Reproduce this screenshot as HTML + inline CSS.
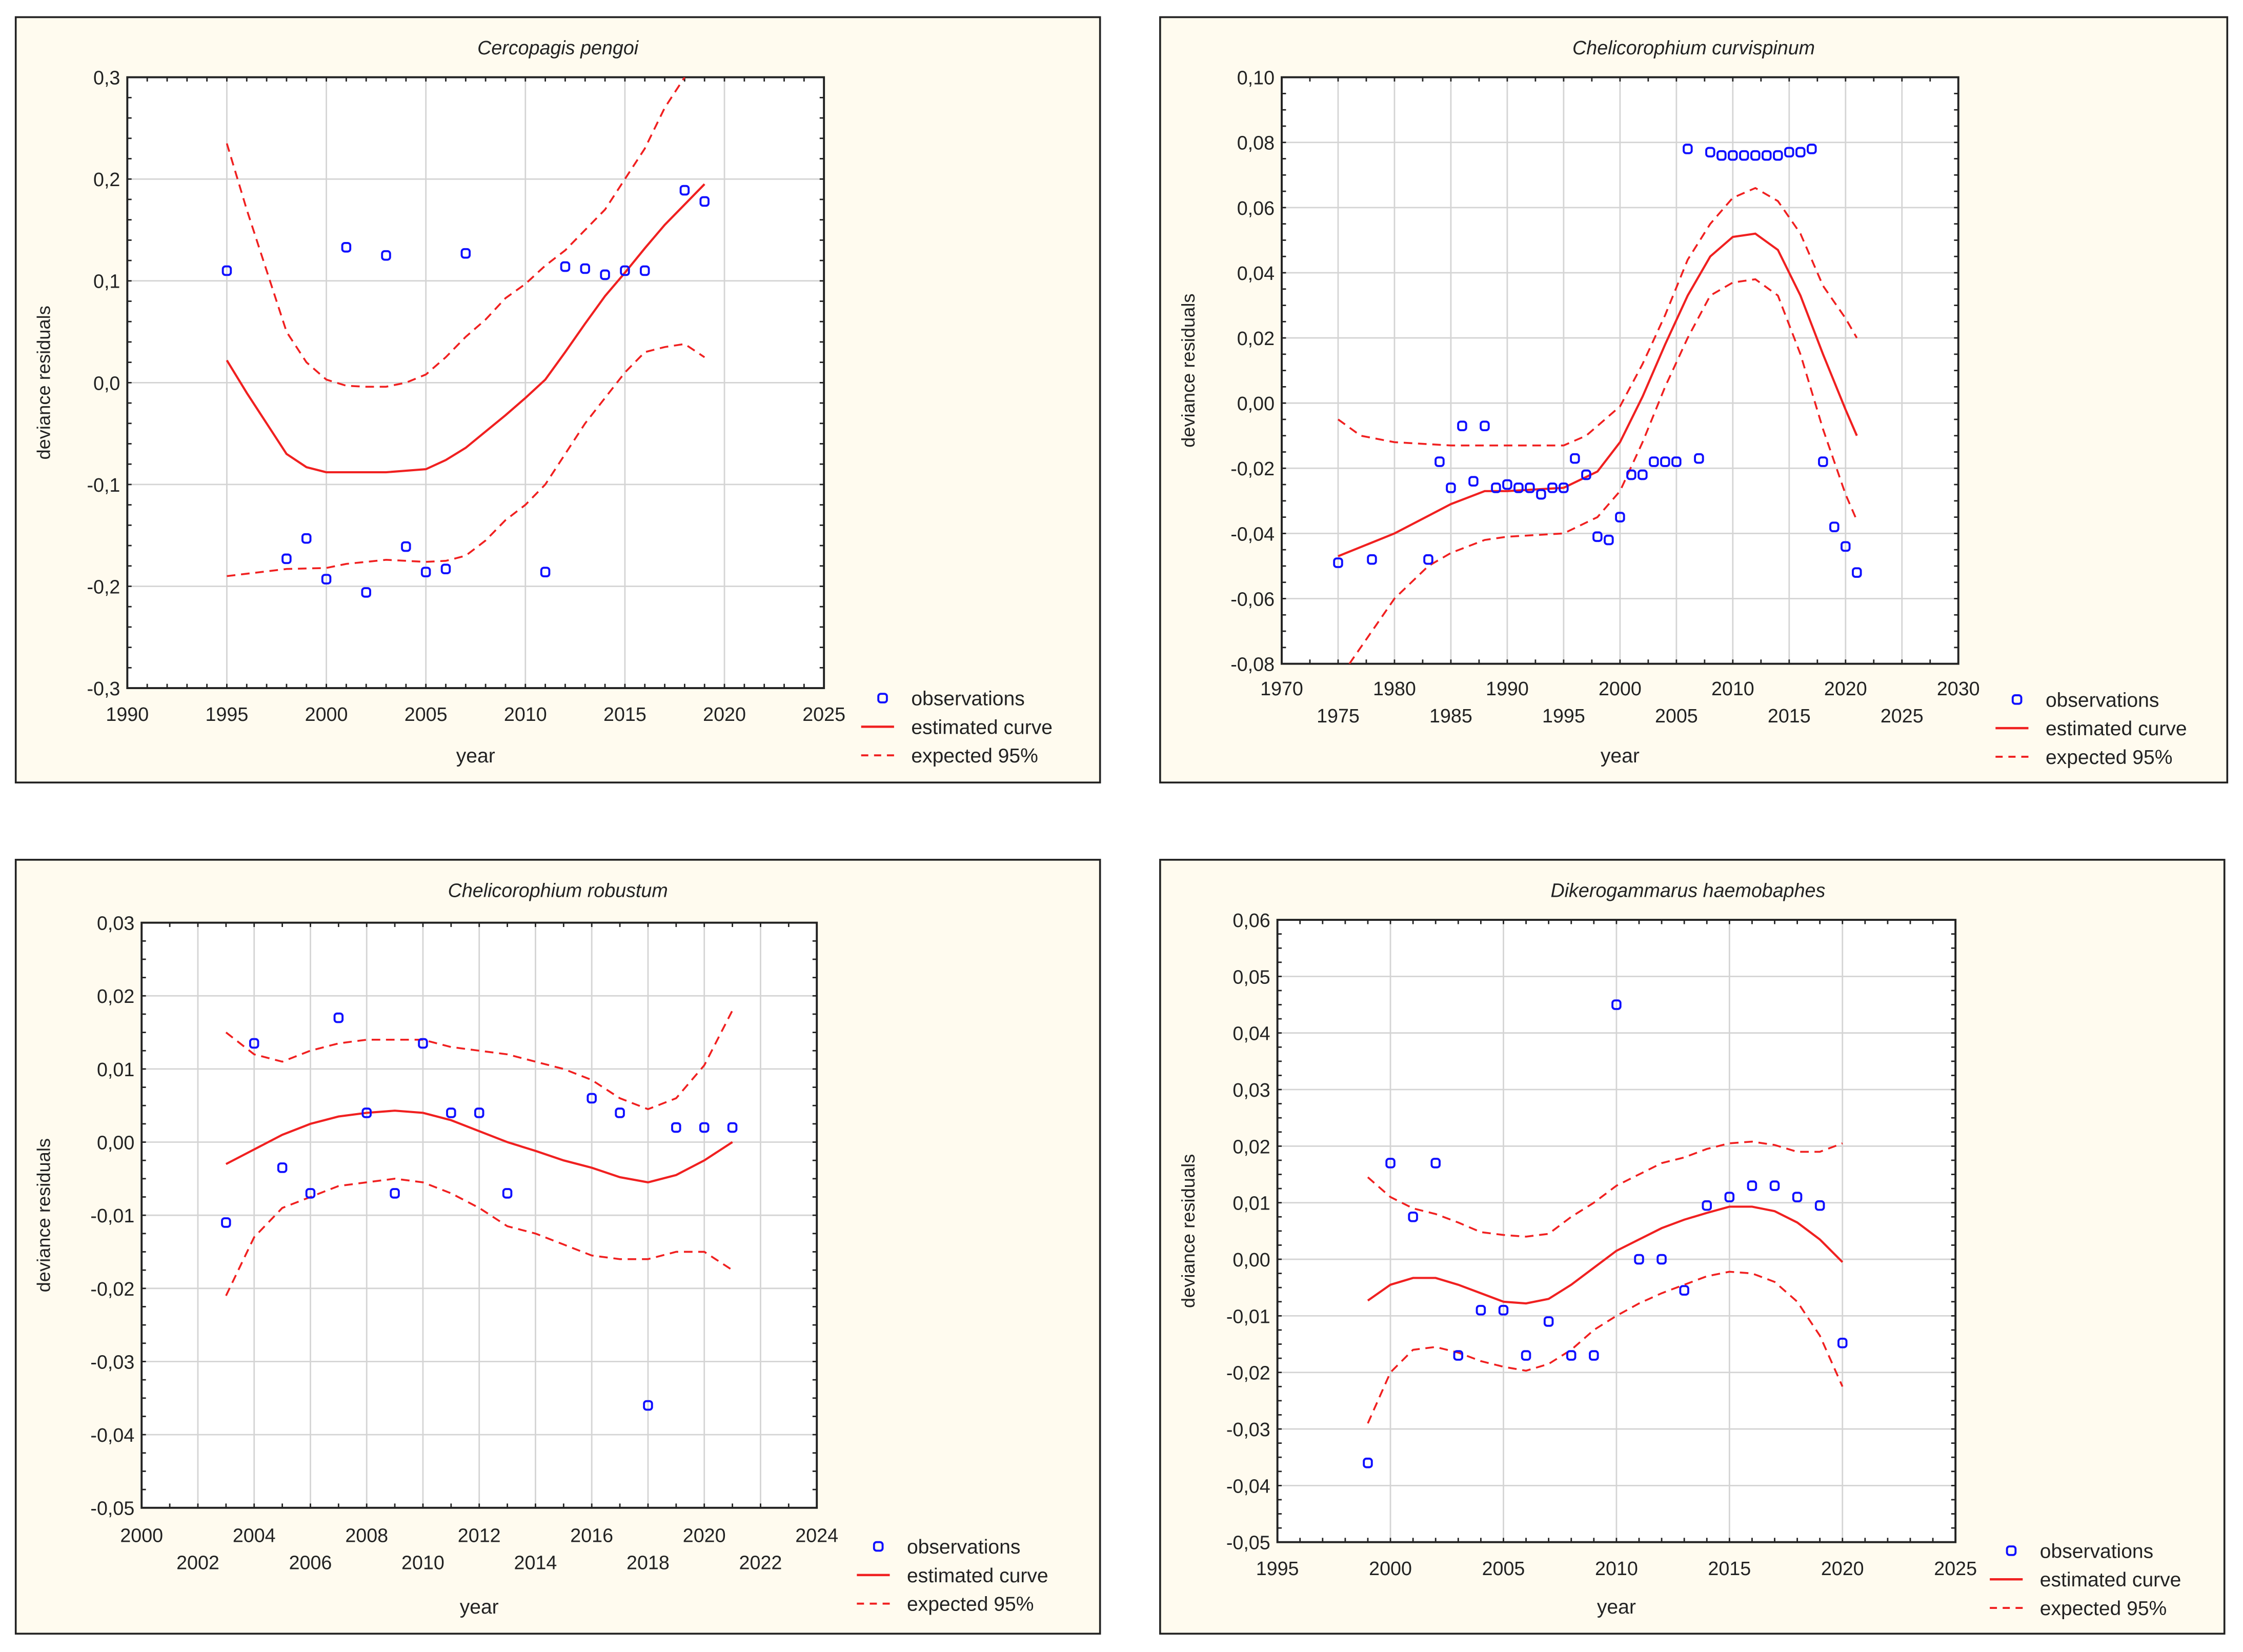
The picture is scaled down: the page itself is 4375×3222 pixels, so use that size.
<!DOCTYPE html>
<html><head><meta charset="utf-8"><style>
html,body{margin:0;padding:0;background:#fff;}
svg{display:block;font-family:"Liberation Sans",Arial,sans-serif;}
</style></head><body>
<svg id="chart" xmlns="http://www.w3.org/2000/svg" width="4375" height="3222" viewBox="0 0 1568 1154.8" preserveAspectRatio="none"></svg>
<script>
// ---------- Panel 1: Cercopagis pengoi ----------
const p1ObsYears=[1995,1998,1999,2000,2001,2002,2003,2004,2005,2006,2007,2011,2012,2013,2014,2015,2016,2018,2019];
const p1ObsVals=[0.11,-0.173,-0.153,-0.193,0.133,-0.206,0.125,-0.161,-0.186,-0.183,0.127,-0.186,0.114,0.112,0.106,0.110,0.110,0.189,0.178];
const p1CurveYears=[1995,1996,1997,1998,1999,2000,2003,2005,2006,2007,2008,2009,2010,2011,2012,2013,2014,2015,2016,2017,2018,2019];
const p1CurveVals=[0.022,-0.01,-0.04,-0.07,-0.083,-0.088,-0.088,-0.085,-0.076,-0.064,-0.048,-0.032,-0.015,0.003,0.03,0.058,0.085,0.108,0.132,0.155,0.175,0.195];
const p1UpYears=[1995,1996,1997,1998,1999,2000,2001,2002,2003,2004,2005,2006,2007,2008,2009,2010,2011,2012,2013,2014,2015,2016,2017,2018];
const p1UpVals=[0.235,0.17,0.11,0.05,0.02,0.003,-0.003,-0.004,-0.004,0,0.008,0.025,0.045,0.062,0.083,0.097,0.115,0.13,0.15,0.17,0.2,0.23,0.27,0.3];
const p1LoYears=[1995,1998,2000,2001,2003,2005,2006,2007,2008,2009,2010,2011,2012,2013,2014,2015,2016,2017,2018,2019];
const p1LoVals=[-0.19,-0.183,-0.182,-0.178,-0.174,-0.176,-0.175,-0.17,-0.155,-0.135,-0.12,-0.1,-0.07,-0.04,-0.015,0.01,0.03,0.035,0.038,0.025];
const p1XTicks=[1990,1995,2000,2005,2010,2015,2020,2025];
const p1YTicks=[-0.3,-0.2,-0.1,0,0.1,0.2,0.3];
const p1YLabels=["-0,3","-0,2","-0,1","0,0","0,1","0,2","0,3"];

// ---------- Panel 2: Chelicorophium curvispinum ----------
const p2ObsYears=[1975,1978,1983,1984,1985,1986,1987,1988,1989,1990,1991,1992,1993,1994,1995,1996,1997,1998,1999,2000,2001,2002,2003,2004,2005,2006,2007,2008,2009,2010,2011,2012,2013,2014,2015,2016,2017,2018,2019,2020,2021];
const p2ObsVals=[-0.049,-0.048,-0.048,-0.018,-0.026,-0.007,-0.024,-0.007,-0.026,-0.025,-0.026,-0.026,-0.028,-0.026,-0.026,-0.017,-0.022,-0.041,-0.042,-0.035,-0.022,-0.022,-0.018,-0.018,-0.018,0.078,-0.017,0.077,0.076,0.076,0.076,0.076,0.076,0.076,0.077,0.077,0.078,-0.018,-0.038,-0.044,-0.052];
const p2CurveYears=[1975,1980,1985,1988,1990,1995,1998,2000,2002,2004,2006,2008,2010,2012,2014,2016,2018,2020,2021];
const p2CurveVals=[-0.047,-0.04,-0.031,-0.027,-0.027,-0.026,-0.021,-0.012,0.002,0.018,0.033,0.045,0.051,0.052,0.047,0.033,0.015,-0.002,-0.01];
const p2UpYears=[1975,1977,1980,1985,1990,1995,1997,2000,2002,2004,2006,2008,2010,2012,2014,2016,2018,2020,2021];
const p2UpVals=[-0.005,-0.01,-0.012,-0.013,-0.013,-0.013,-0.01,-0.001,0.012,0.027,0.044,0.055,0.063,0.066,0.062,0.052,0.036,0.026,0.02];
const p2LoYears=[1976,1978,1980,1983,1985,1988,1990,1995,1998,2000,2002,2004,2006,2008,2010,2012,2014,2016,2018,2020,2021];
const p2LoVals=[-0.08,-0.07,-0.06,-0.05,-0.046,-0.042,-0.041,-0.04,-0.035,-0.027,-0.012,0.005,0.02,0.033,0.037,0.038,0.033,0.015,-0.008,-0.028,-0.036];
const p2XTicks=[1970,1975,1980,1985,1990,1995,2000,2005,2010,2015,2020,2025,2030];
const p2YTicks=[-0.08,-0.06,-0.04,-0.02,0,0.02,0.04,0.06,0.08,0.10];
const p2YLabels=["-0,08","-0,06","-0,04","-0,02","0,00","0,02","0,04","0,06","0,08","0,10"];

// ---------- Panel 3: Chelicorophium robustum ----------
const p3ObsYears=[2003,2004,2005,2006,2007,2008,2009,2010,2011,2012,2013,2016,2017,2018,2019,2020,2021];
const p3ObsVals=[-0.011,0.0135,-0.0035,-0.007,0.017,0.004,-0.007,0.0135,0.004,0.004,-0.007,0.006,0.004,-0.036,0.002,0.002,0.002];
const p3CurveYears=[2003,2004,2005,2006,2007,2008,2009,2010,2011,2012,2013,2014,2015,2016,2017,2018,2019,2020,2021];
const p3CurveVals=[-0.003,-0.001,0.001,0.0025,0.0035,0.004,0.0043,0.004,0.003,0.0015,0,-0.0012,-0.0025,-0.0035,-0.0048,-0.0055,-0.0045,-0.0025,0];
const p3UpVals=[0.015,0.012,0.011,0.0125,0.0135,0.014,0.014,0.014,0.013,0.0125,0.012,0.011,0.01,0.0085,0.006,0.0045,0.006,0.0105,0.018];
const p3LoVals=[-0.021,-0.013,-0.009,-0.0075,-0.006,-0.0055,-0.005,-0.0055,-0.007,-0.009,-0.0115,-0.0125,-0.014,-0.0155,-0.016,-0.016,-0.015,-0.015,-0.0175];
const p3XTicks=[2000,2002,2004,2006,2008,2010,2012,2014,2016,2018,2020,2022,2024];
const p3YTicks=[-0.05,-0.04,-0.03,-0.02,-0.01,0,0.01,0.02,0.03];
const p3YLabels=["-0,05","-0,04","-0,03","-0,02","-0,01","0,00","0,01","0,02","0,03"];

// ---------- Panel 4: Dikerogammarus haemobaphes ----------
const p4ObsYears=[1999,2000,2001,2002,2003,2004,2005,2006,2007,2008,2009,2010,2011,2012,2013,2014,2015,2016,2017,2018,2019,2020];
const p4ObsVals=[-0.036,0.017,0.0075,0.017,-0.017,-0.009,-0.009,-0.017,-0.011,-0.017,-0.017,0.045,0,0,-0.0055,0.0095,0.011,0.013,0.013,0.011,0.0095,-0.0148];
const p4CurveYears=[1999,2000,2001,2002,2003,2004,2005,2006,2007,2008,2009,2010,2011,2012,2013,2014,2015,2016,2017,2018,2019,2020];
const p4CurveVals=[-0.0073,-0.0045,-0.0033,-0.0033,-0.0045,-0.006,-0.0075,-0.0078,-0.007,-0.0045,-0.0015,0.0015,0.0035,0.0055,0.007,0.0082,0.0093,0.0093,0.0085,0.0065,0.0035,-0.0005];
const p4UpVals=[0.0145,0.011,0.009,0.008,0.0065,0.0048,0.0043,0.004,0.0045,0.0075,0.01,0.013,0.015,0.017,0.018,0.0195,0.0205,0.0208,0.0202,0.019,0.019,0.0205];
const p4LoVals=[-0.029,-0.02,-0.016,-0.0155,-0.0165,-0.018,-0.019,-0.0197,-0.0185,-0.016,-0.0125,-0.01,-0.0078,-0.006,-0.0045,-0.003,-0.0022,-0.0025,-0.004,-0.0075,-0.0135,-0.0225];
const p4XTicks=[1995,2000,2005,2010,2015,2020,2025];
const p4YTicks=[-0.05,-0.04,-0.03,-0.02,-0.01,0,0.01,0.02,0.03,0.04,0.05,0.06];
const p4YLabels=["-0,05","-0,04","-0,03","-0,02","-0,01","0,00","0,01","0,02","0,03","0,04","0,05","0,06"];

const NS="http://www.w3.org/2000/svg";
const svg=document.getElementById('chart');
function mk(tag,attrs,parent){const e=document.createElementNS(NS,tag);for(const k in attrs)e.setAttribute(k,attrs[k]);(parent||svg).appendChild(e);return e;}

function panel(c){
  const g=mk('g',{});
  
  
  const box=mk('rect',{x:c.bx,y:c.by,width:c.bw,height:c.bh,fill:'#fffbef',stroke:'#222','stroke-width':1.3},g);
  
  
  const L=c.px,T=c.py,R=c.px+c.pw,B=c.py+c.ph;
  const xs=v=>L+(v-c.xmin)/(c.xmax-c.xmin)*c.pw;
  const ys=v=>B-(v-c.ymin)/(c.ymax-c.ymin)*c.ph;
  mk('rect',{x:L,y:T,width:c.pw,height:c.ph,fill:'#fff'},g);
  const clipId=c.id+'-clip';
  const cp=mk('clipPath',{id:clipId},g);mk('rect',{x:L,y:T,width:c.pw,height:c.ph},cp);
  // grid
  c.xTicks.forEach(t=>{const l=mk('line',{x1:xs(t),x2:xs(t),y1:T,y2:B,stroke:'#d4d4d4','stroke-width':1},g);
    });
  c.yTicks.forEach(t=>{const l=mk('line',{x1:L,x2:R,y1:ys(t),y2:ys(t),stroke:'#d4d4d4','stroke-width':1},g);
    });
  // minor ticks
  for(let v=c.xmin;v<=c.xmax+1e-9;v+=c.xMinor){const x=xs(v);mk('line',{x1:x,x2:x,y1:B,y2:B-3,stroke:'#222'},g);mk('line',{x1:x,x2:x,y1:T,y2:T+3,stroke:'#222'},g);}
  for(let v=c.ymin;v<=c.ymax+1e-9;v+=c.yMinor){const y=ys(v);mk('line',{x1:L,x2:L+3,y1:y,y2:y,stroke:'#222'},g);mk('line',{x1:R,x2:R-3,y1:y,y2:y,stroke:'#222'},g);}
  const ax=mk('rect',{x:L,y:T,width:c.pw,height:c.ph,fill:'none',stroke:'#222','stroke-width':1.4},g);
  
  // tick labels
  c.xTicks.forEach((t,i)=>{const yy=c.stagger?(i%2===0?c.xLabY:c.xLabY+19):c.xLabY;
    const tx=mk('text',{x:xs(t),y:yy,'text-anchor':'middle','font-size':13.5,fill:'#222'},g);tx.textContent=t;
    });
  c.yTicks.forEach((t,i)=>{const tx=mk('text',{x:L-5,y:ys(t)+5,'text-anchor':'end','font-size':13.5,fill:'#222'},g);tx.textContent=c.yLabels[i];
    });
  const ti=mk('text',{x:c.titleX,y:c.by+26,'text-anchor':'middle','font-size':13.5,'font-style':'italic',fill:'#222'},g);ti.textContent=c.title;
  
  const xl=mk('text',{x:(L+R)/2,y:c.by+c.bh-14,'text-anchor':'middle','font-size':14,fill:'#222'},g);xl.textContent='year';
  
  const yx=c.bx+24,yy=(T+B)/2;
  const yl=mk('text',{x:yx,y:yy,'text-anchor':'middle','font-size':13,fill:'#222',transform:`rotate(-90 ${yx} ${yy})`},g);yl.textContent='deviance residuals';
  
  // series
  const pts=(xa,ya)=>xa.map((x,i)=>xs(x).toFixed(2)+','+ys(ya[i]).toFixed(2)).join(' ');
  const up=mk('polyline',{points:pts(c.upX,c.upY),fill:'none',stroke:'#f02020','stroke-width':1.3,'stroke-dasharray':'6,4','clip-path':`url(#${clipId})`},g);
  
  const lo=mk('polyline',{points:pts(c.loX,c.loY),fill:'none',stroke:'#f02020','stroke-width':1.3,'stroke-dasharray':'6,4','clip-path':`url(#${clipId})`},g);
  
  const cu=mk('polyline',{points:pts(c.cX,c.cY),fill:'none',stroke:'#f02020','stroke-width':1.5,'clip-path':`url(#${clipId})`},g);
  
  c.oX.forEach((x,i)=>{const m=mk('rect',{x:xs(x)-2.8,y:ys(c.oY[i])-3,width:5.6,height:6,rx:1.8,fill:'none',stroke:'#1010ff','stroke-width':1.4},g);
    });
  // legend
  const lx=c.legX,ly=c.legY;
  const lm=mk('rect',{x:lx-3,y:ly-3,width:6,height:6,rx:1.8,fill:'none',stroke:'#1010ff','stroke-width':1.4},g);
  
  const t1=mk('text',{x:lx+20,y:ly+5,'font-size':14,fill:'#222'},g);t1.textContent='observations';
  
  mk('line',{x1:lx-15,x2:lx+8,y1:ly+20,y2:ly+20,stroke:'#f02020','stroke-width':1.6},g);
  const t2=mk('text',{x:lx+20,y:ly+25,'font-size':14,fill:'#222'},g);t2.textContent='estimated curve';
  
  mk('line',{x1:lx-15,x2:lx+8,y1:ly+40,y2:ly+40,stroke:'#f02020','stroke-width':1.4,'stroke-dasharray':'5,4'},g);
  const t3=mk('text',{x:lx+20,y:ly+45,'font-size':14,fill:'#222'},g);t3.textContent='expected 95%';
  
}

panel({id:'cercopagis',title:'Cercopagis pengoi',bx:11,by:12,bw:758,bh:535,px:89,py:54,pw:487,ph:427,
  xmin:1990,xmax:2025,ymin:-0.3,ymax:0.3,xMinor:1,yMinor:0.02,xTicks:p1XTicks,yTicks:p1YTicks,yLabels:p1YLabels,
  stagger:false,xLabY:504,titleX:390,legX:617,legY:488,
  oX:p1ObsYears,oY:p1ObsVals,cX:p1CurveYears,cY:p1CurveVals,upX:p1UpYears,upY:p1UpVals,loX:p1LoYears,loY:p1LoVals});
panel({id:'curvispinum',title:'Chelicorophium curvispinum',bx:811,by:12,bw:746,bh:535,px:896,py:54,pw:473,ph:410,
  xmin:1970,xmax:2030,ymin:-0.08,ymax:0.10,xMinor:2.5,yMinor:0.005,xTicks:p2XTicks,yTicks:p2YTicks,yLabels:p2YLabels,
  stagger:true,xLabY:486,titleX:1184,legX:1410,legY:489,
  oX:p2ObsYears,oY:p2ObsVals,cX:p2CurveYears,cY:p2CurveVals,upX:p2UpYears,upY:p2UpVals,loX:p2LoYears,loY:p2LoVals});
panel({id:'robustum',title:'Chelicorophium robustum',bx:11,by:601,bw:758,bh:541,px:99,py:645,pw:472,ph:409,
  xmin:2000,xmax:2024,ymin:-0.05,ymax:0.03,xMinor:1,yMinor:0.0025,xTicks:p3XTicks,yTicks:p3YTicks,yLabels:p3YLabels,
  stagger:true,xLabY:1078,titleX:390,legX:614,legY:1081,
  oX:p3ObsYears,oY:p3ObsVals,cX:p3CurveYears,cY:p3CurveVals,upX:p3CurveYears,upY:p3UpVals,loX:p3CurveYears,loY:p3LoVals});
panel({id:'dikerogammarus',title:'Dikerogammarus haemobaphes',bx:811,by:601,bw:744,bh:541,px:893,py:643,pw:474,ph:435,
  xmin:1995,xmax:2025,ymin:-0.05,ymax:0.06,xMinor:1,yMinor:0.0025,xTicks:p4XTicks,yTicks:p4YTicks,yLabels:p4YLabels,
  stagger:false,xLabY:1101,titleX:1180,legX:1406,legY:1084,
  oX:p4ObsYears,oY:p4ObsVals,cX:p4CurveYears,cY:p4CurveVals,upX:p4CurveYears,upY:p4UpVals,loX:p4CurveYears,loY:p4LoVals});
</script>
</body></html>
